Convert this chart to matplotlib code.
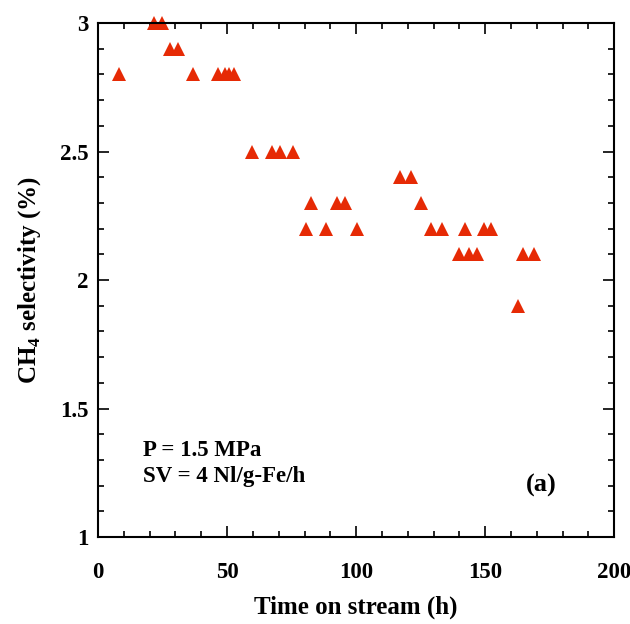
import matplotlib
matplotlib.use("Agg")
import matplotlib.pyplot as plt
from matplotlib.ticker import MultipleLocator, FuncFormatter

time_h = [8.1, 21.7, 24.9, 27.9, 30.9, 36.9, 46.6, 49.0, 50.9, 52.7,
          59.6, 67.3, 70.5, 75.5, 80.6, 82.4, 88.4, 92.5, 95.5, 100.3,
          117.1, 121.2, 125.1, 129.0, 133.2, 139.9, 142.0, 143.9, 147.0,
          149.7, 152.2, 162.9, 164.8, 169.0]
ch4_sel = [2.8, 3.0, 3.0, 2.9, 2.9, 2.8, 2.8, 2.8, 2.8, 2.8,
           2.5, 2.5, 2.5, 2.5, 2.2, 2.3, 2.2, 2.3, 2.3, 2.2,
           2.4, 2.4, 2.3, 2.2, 2.2, 2.1, 2.2, 2.1, 2.1,
           2.2, 2.2, 1.9, 2.1, 2.1]

plt.rcParams['font.family'] = ['Liberation Serif', 'DejaVu Serif']
plt.rcParams['font.weight'] = 'bold'
plt.rcParams['mathtext.fontset'] = 'custom'
plt.rcParams['mathtext.rm'] = 'Liberation Serif:bold'

fig = plt.figure(figsize=(6.30, 6.24), dpi=100)
ax = fig.add_axes([0.1556, 0.1394, 0.975 - 0.1556, 0.9631 - 0.1394])

ax.plot(time_h, ch4_sel, linestyle='none', marker='^', markersize=10,
        color='#e62a05', markeredgewidth=0, clip_on=False)

ax.set_xlim(0, 200)
ax.set_ylim(1, 3)
ax.xaxis.set_major_locator(MultipleLocator(50))
ax.xaxis.set_minor_locator(MultipleLocator(10))
ax.yaxis.set_major_locator(MultipleLocator(0.5))
ax.yaxis.set_minor_locator(MultipleLocator(0.1))
ax.yaxis.set_major_formatter(FuncFormatter(lambda v, p: f"{v:g}"))

ax.tick_params(which='both', direction='in', top=True, right=True, width=1.2, color='black')
ax.tick_params(which='major', length=8, labelsize=16.5, pad=7)
ax.tick_params(which='minor', length=4)
ax.tick_params(axis='x', which='major', pad=18)
for lab in ax.get_xticklabels() + ax.get_yticklabels():
    lab.set_fontweight('bold')
for s in ax.spines.values():
    s.set_linewidth(1.5)
    s.set_color('black')

ax.set_xlabel('Time on stream (h)', fontsize=18, fontweight='bold', labelpad=9)
ax.set_ylabel(r'CH$_4$ selectivity (%)', fontsize=18, fontweight='bold', labelpad=12)

ax.text(0.087, 0.169, 'P = 1.5 MPa', transform=ax.transAxes, fontsize=16.5, fontweight='bold', va='center')
ax.text(0.087, 0.117, 'SV = 4 Nl/g-Fe/h', transform=ax.transAxes, fontsize=16.5, fontweight='bold', va='center')
ax.text(0.859, 0.101, '(a)', transform=ax.transAxes, fontsize=19, fontweight='bold', va='center', ha='center')

fig.savefig('out.png', dpi=100)
